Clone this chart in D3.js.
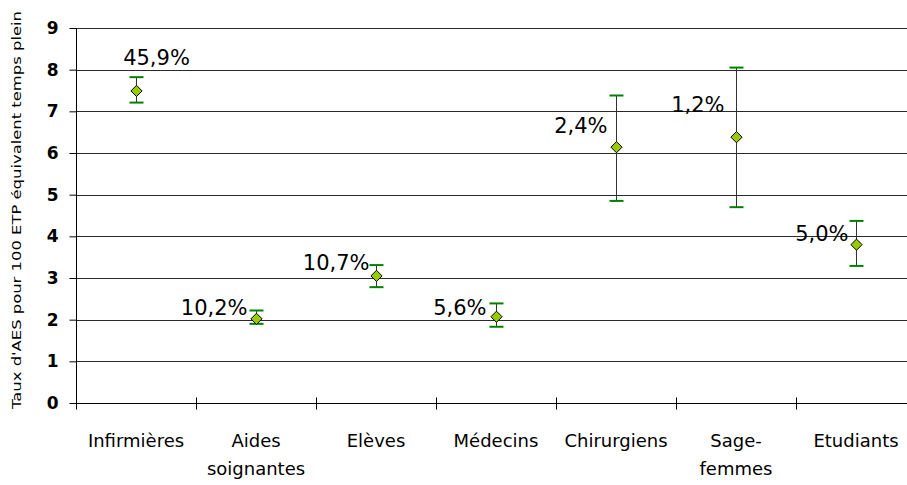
<!DOCTYPE html>
<html>
<head>
<meta charset="utf-8">
<script src="https://cdn.jsdelivr.net/npm/d3@7"></script>
<style>
  html, body { margin: 0; padding: 0; background: #fff; }
  svg { display: block; }
</style>
</head>
<body>
<svg id="chart" width="907" height="485"></svg>
<script>
// ---- Data ----
const categories = ["Infirmières", "Aides soignantes", "Elèves", "Médecins", "Chirurgiens", "Sage-femmes", "Etudiants"];
const categoryLines = [["Infirmières"], ["Aides", "soignantes"], ["Elèves"], ["Médecins"], ["Chirurgiens"], ["Sage-", "femmes"], ["Etudiants"]];
const rates = [7.49, 2.02, 3.05, 2.07, 6.14, 6.38, 3.80];
const lowerCI = [7.21, 1.90, 2.78, 1.83, 4.85, 4.70, 3.29];
const upperCI = [7.82, 2.22, 3.31, 2.39, 7.38, 8.05, 4.37];
const shareLabels = ["45,9%", "10,2%", "10,7%", "5,6%", "2,4%", "1,2%", "5,0%"];
const yTicks = [0, 1, 2, 3, 4, 5, 6, 7, 8, 9];
const yTitle = "Taux d'AES pour 100 ETP équivalent temps plein";

// ---- Layout (label placement relative to point) ----
const labelPlacement = [
  { dx: 20, dy: -26, anchor: "middle" },
  { dx: -9, dy: -4, anchor: "end" },
  { dx: -7, dy: -6, anchor: "end" },
  { dx: -10, dy: -2, anchor: "end" },
  { dx: -9, dy: -14, anchor: "end" },
  { dx: -12, dy: -25, anchor: "end" },
  { dx: -8, dy: -4, anchor: "end" }
];

(function () {
const svg = d3.select("#chart");
const mLeft = 76, mRight = 916, mTop = 28, mBottom = 403;

const x = d3.scaleBand().domain(categories).range([mLeft, mRight]).padding(0);
const y = d3.scaleLinear().domain([0, 9]).range([mBottom, mTop]);

const font = "'DejaVu Sans', sans-serif";

// Gridlines
svg.append("g").selectAll("line").data(yTicks.filter(d => d > 0)).join("line")
  .attr("x1", mLeft).attr("x2", mRight)
  .attr("y1", d => Math.round(y(d)) + 0.5).attr("y2", d => Math.round(y(d)) + 0.5)
  .attr("stroke", "#2a2a2a").attr("stroke-width", 1);

// Y axis
const yAxis = d3.axisLeft(y).tickValues(yTicks).tickSize(7).tickPadding(11).tickFormat(d3.format("d"));
const gy = svg.append("g").attr("transform", `translate(${mLeft + 0.5},0)`).call(yAxis);
gy.select(".domain").attr("stroke", "#000").attr("d", `M0,${mTop}V${mBottom + 0.5}`);
gy.selectAll(".tick line").attr("stroke", "#000");
gy.selectAll(".tick text").attr("font-family", font).attr("font-weight", "bold")
  .attr("font-size", 17).attr("fill", "#000");

// X axis
const xAxis = d3.axisBottom(x).tickSize(0).tickFormat("");
const gx = svg.append("g").attr("transform", `translate(0,${Math.round(y(0)) + 0.5})`).call(xAxis);
gx.select(".domain").attr("stroke", "#000").attr("d", `M${mLeft},0H${mRight}`);
gx.append("g").selectAll("line").data(d3.range(categories.length + 1)).join("line")
  .attr("x1", i => Math.round(mLeft + i * x.step()) + 0.5)
  .attr("x2", i => Math.round(mLeft + i * x.step()) + 0.5)
  .attr("y1", -6).attr("y2", 6).attr("stroke", "#000");

// Category labels
const catG = svg.append("g");
categories.forEach((c, i) => {
  const t = catG.append("text")
    .attr("x", x(c) + x.bandwidth() / 2)
    .attr("y", 447)
    .attr("text-anchor", "middle")
    .attr("font-family", font).attr("font-size", 18).attr("fill", "#000");
  categoryLines[i].forEach((ln, k) => {
    t.append("tspan").attr("x", x(c) + x.bandwidth() / 2).attr("dy", k === 0 ? 0 : 28).text(ln);
  });
});

// Y title
svg.append("text")
  .attr("transform", `translate(21,${(10 + 410) / 2}) rotate(-90)`)
  .attr("text-anchor", "middle")
  .attr("font-family", font).attr("font-size", 13).attr("fill", "#000")
  .attr("textLength", 398).attr("lengthAdjust", "spacingAndGlyphs")
  .text(yTitle);

// Error bars
const cx = c => Math.round(x(c) + x.bandwidth() / 2) + 0.5;
const eb = svg.append("g");
eb.selectAll("line.stem").data(categories).join("line").attr("class", "stem")
  .attr("x1", cx).attr("x2", cx)
  .attr("y1", (c, i) => y(upperCI[i])).attr("y2", (c, i) => y(lowerCI[i]))
  .attr("stroke", "#333").attr("stroke-width", 1);
[upperCI, lowerCI].forEach(arr => {
  eb.append("g").selectAll("line").data(categories).join("line")
    .attr("x1", c => cx(c) - 7).attr("x2", c => cx(c) + 7)
    .attr("y1", (c, i) => y(arr[i])).attr("y2", (c, i) => y(arr[i]))
    .attr("stroke", "#008000").attr("stroke-width", 2);
});

// Points (diamonds)
svg.append("g").selectAll("path").data(categories).join("path")
  .attr("d", d3.symbol().type(d3.symbolDiamond2).size(80))
  .attr("transform", (c, i) => `translate(${cx(c)},${y(rates[i])})`)
  .attr("fill", "#99cc00").attr("stroke", "#000").attr("stroke-width", 1);

// Share labels
svg.append("g").selectAll("text").data(categories).join("text")
  .attr("x", (c, i) => cx(c) + labelPlacement[i].dx)
  .attr("y", (c, i) => y(rates[i]) + labelPlacement[i].dy)
  .attr("text-anchor", (c, i) => labelPlacement[i].anchor)
  .attr("font-family", font).attr("font-size", 21).attr("fill", "#000")
  .text((c, i) => shareLabels[i]);
})();
</script>
</body>
</html>
